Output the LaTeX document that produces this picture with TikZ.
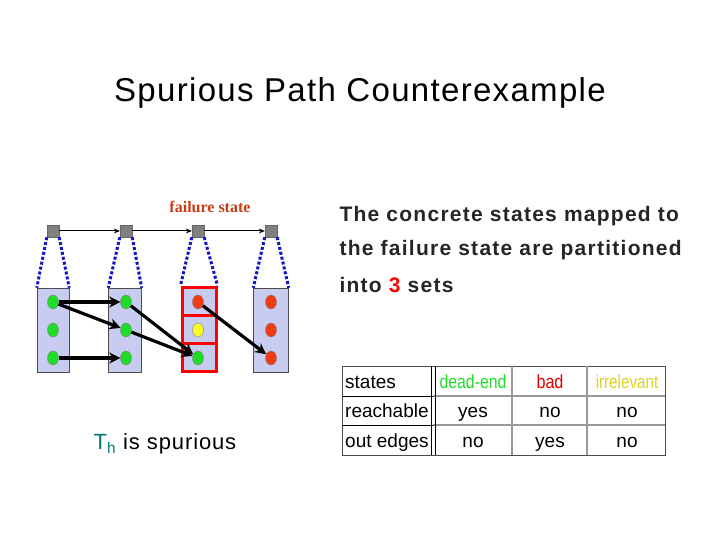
\documentclass[tikz,border=0pt]{standalone}
\usepackage{fontspec}
\setmainfont{Liberation Sans}
\newfontfamily\serifj{Liberation Serif}
\usetikzlibrary{arrows.meta,shapes.geometric}
\definecolor{boxfill}{RGB}{200,204,240}
\definecolor{dotgreen}{RGB}{30,220,40}
\definecolor{dotred}{RGB}{240,60,20}
\definecolor{dotyellow}{RGB}{250,250,40}
\definecolor{failc}{RGB}{200,60,20}
\definecolor{teal}{RGB}{0,120,120}
\definecolor{dkblue}{RGB}{20,20,200}
\tikzset{
 sq/.style={draw=black!60,fill=gray,minimum size=12pt,inner sep=0pt},
 colbox/.style={draw=black!70,fill=boxfill,inner sep=0pt},
 dotn/.style={ellipse,draw=black!50,minimum width=11pt,minimum height=14pt,inner sep=0pt},
 dots/.style={draw=dkblue,line width=3pt,dash pattern=on 3pt off 2pt},
 thick arrow/.style={line width=3.2pt,-{Stealth[length=11pt,width=11pt]}},
 thin arrow/.style={line width=1pt,-{Stealth[length=6pt,width=5pt]}},
 cell/.style={font=\fontsize{19}{19}\selectfont, inner sep=0pt, anchor=base},
 rtext/.style={anchor=west,font=\addfontfeature{LetterSpace=6}\bfseries\fontsize{21}{21}\selectfont,text=black!85}
}
\begin{document}
\begin{tikzpicture}[x=1pt,y=-1pt]
\useasboundingbox (0,0) rectangle (720,540);
\node[font=\addfontfeature{LetterSpace=4}\fontsize{33}{33}\selectfont] (title) at (360,93) {Spurious Path Counterexample};
\node[font=\serifj\bfseries\fontsize{16}{16}\selectfont,text=failc] (fail) at (210,207) {failure state};
% boxes
\node[colbox,minimum width=32pt,minimum height=84pt] (b1) at (53,330) {};
\node[colbox,minimum width=33pt,minimum height=84pt] (b2) at (125,330) {};
\node[colbox,minimum width=35pt,minimum height=84pt] (b4) at (271,330) {};
\node[draw=red,line width=3pt,fill=boxfill,minimum width=34pt,minimum height=84pt,inner sep=0pt] (b3) at (199,329) {};
\draw[red,line width=3pt] (b3.west|-0,315) -- (b3.east|-0,315) (b3.west|-0,343) -- (b3.east|-0,343);
% squares
\foreach \i/\x in {1/53,2/126,3/198,4/271}{
 \node[sq] (s\i) at (\x,231) {};
 \draw[dots] (s\i.south west) -- (b\i.north west);
 \draw[dots] (s\i.south east) -- (b\i.north east);
}
\draw[thin arrow] (s1) -- (s2);
\draw[thin arrow] (s2) -- (s3);
\draw[thin arrow] (s3) -- (s4);
% dots
\foreach \i/\x in {1/53,2/126}{
 \node[dotn,fill=dotgreen] (d\i a) at (\x,302) {};
 \node[dotn,fill=dotgreen] (d\i b) at (\x,330) {};
 \node[dotn,fill=dotgreen] (d\i c) at (\x,358) {};
}
\node[dotn,fill=dotred] (d3a) at (198,302) {};
\node[dotn,fill=dotyellow] (d3b) at (198,330) {};
\node[dotn,fill=dotgreen] (d3c) at (198,358) {};
\node[dotn,fill=dotred] (d4a) at (271,302) {};
\node[dotn,fill=dotred] (d4b) at (271,330) {};
\node[dotn,fill=dotred] (d4c) at (271,358) {};
\draw[thick arrow] (d1a) -- (d2a);
\draw[thick arrow] (d1a) -- (d2b);
\draw[thick arrow] (d1c) -- (d2c);
\draw[thick arrow] (d2a) -- (d3c);
\draw[thick arrow] (d2b) -- (d3c);
\draw[thick arrow] (d3a) -- (d4c);
\node[font=\addfontfeature{LetterSpace=4}\fontsize{22}{22}\selectfont] (th) at (165,444) {\textcolor{teal}{T\textsubscript{h}} is spurious};
% right text
\node[rtext] (t1) at (336,216) {The concrete states mapped to};
\node[rtext] (t2) at (336,250) {the failure state are partitioned};
\node[rtext] (t3) at (336,285) {into \textcolor{red}{3} sets};
% table
\draw[black!70,line width=0.6pt] (342,366) rectangle (665,455);
\draw[black!40,line width=1.2pt] (433,396) -- (665,396) (433,425) -- (665,425) (512,366) -- (512,455) (587,366) -- (587,455);
\draw[black,line width=1pt] (342,396) -- (433,396) (342,425) -- (433,425);
\draw[black,line width=0.6pt] (431,366) -- (431,455) (435,366) -- (435,455);
\node[cell,anchor=base west] (c11) at (345,388) {states};
\node[cell,anchor=base west] (c21) at (345,417) {reachable};
\node[cell,anchor=base west] (c31) at (345,447) {out edges};
\node[cell,text=dotgreen] (c12) at (473,388) {\addfontfeature{FakeStretch=0.83}dead-end};
\node[cell,text=red!90!black] (c13) at (550,388) {\addfontfeature{FakeStretch=0.85}bad};
\node[cell,text=yellow!85!black] (c14) at (627,388) {\addfontfeature{FakeStretch=0.8}irrelevant};
\node[cell] (c22) at (473,417) {yes};
\node[cell] (c23) at (550,417) {no};
\node[cell] (c24) at (627,417) {no};
\node[cell] (c32) at (473,447) {no};
\node[cell] (c33) at (550,447) {yes};
\node[cell] (c34) at (627,447) {no};
\end{tikzpicture}
\end{document}
